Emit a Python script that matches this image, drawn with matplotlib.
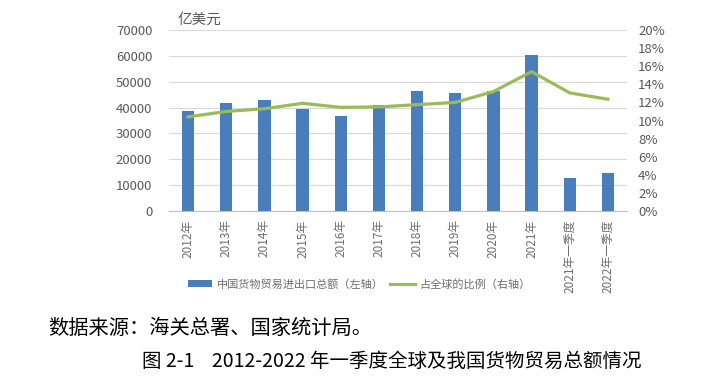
import matplotlib.pyplot as plt
import matplotlib
import numpy as np

matplotlib.rcParams['font.family'] = ['Noto Sans CJK SC', 'DejaVu Sans']
matplotlib.rcParams['axes.unicode_minus'] = False

categories = ['2012年', '2013年', '2014年', '2015年', '2016年', '2017年', '2018年',
              '2019年', '2020年', '2021年', '2021年一季度', '2022年一季度']
trade_total = [38671, 41590, 43015, 39530, 36856, 41045, 46224, 45779, 46463, 60515, 12900, 14650]
global_share = [10.4, 11.0, 11.3, 11.9, 11.45, 11.5, 11.75, 12.0, 13.2, 15.4, 13.05, 12.35]

bar_color = '#4a7ebb'
line_color = '#9bbb59'
gray = '#595959'

fig = plt.figure(figsize=(7.13, 3.89), dpi=100)
ax = fig.add_axes([169 / 713, 1 - 211 / 389, (627 - 169) / 713, (211 - 30) / 389])
x = np.arange(len(categories))

ax.bar(x, trade_total, width=0.32, color=bar_color, zorder=3, label='中国货物贸易进出口总额（左轴）')
ax.set_ylim(0, 70000)
ax.set_yticks(range(0, 70001, 10000))
ax.set_xlim(-0.5, len(categories) - 0.5)
ax.set_xticks(x)
ax.set_xticklabels(categories, rotation=90, fontsize=8.5, color='#6e6e6e')
ax.tick_params(axis='y', labelsize=9.5, colors=gray, length=0, pad=12)
ax.tick_params(axis='x', length=0, pad=6)
ax.grid(axis='y', color='#d9d9d9', linewidth=0.8, zorder=0)
for s in ['top', 'left', 'right']:
    ax.spines[s].set_visible(False)
ax.spines['bottom'].set_color('#bfbfbf')

ax2 = ax.twinx()
ax2.plot(x, global_share, color=line_color, linewidth=2.3, zorder=4, label='占全球的比例（右轴）')
ax2.set_ylim(0, 20)
ax2.set_yticks(range(0, 21, 2))
ax2.set_yticklabels([f'{v}%' for v in range(0, 21, 2)])
ax2.tick_params(axis='y', labelsize=9.5, colors=gray, length=0, pad=8)
for s in ['top', 'left', 'right', 'bottom']:
    ax2.spines[s].set_visible(False)

fig.text(178 / 713, 1 - 20 / 389, '亿美元', fontsize=10.5, color=gray, va='center')

h1, l1 = ax.get_legend_handles_labels()
h2, l2 = ax2.get_legend_handles_labels()
fig.legend(h1 + h2, l1 + l2, loc='center left', bbox_to_anchor=(178 / 713, 1 - 284 / 389),
           ncol=2, frameon=False, fontsize=8, labelcolor='#6e6e6e', handlelength=2.2,
           handletextpad=0.4, columnspacing=0.6)

fig.text(48 / 713, 1 - 328 / 389, '数据来源：海关总署、国家统计局。', fontsize=14.6, color='black', va='center')
fig.text(392 / 713, 1 - 361 / 389, '图 2-1    2012-2022 年一季度全球及我国货物贸易总额情况',
         fontsize=14, color='black', va='center', ha='center')

plt.savefig('out.png', dpi=100)
